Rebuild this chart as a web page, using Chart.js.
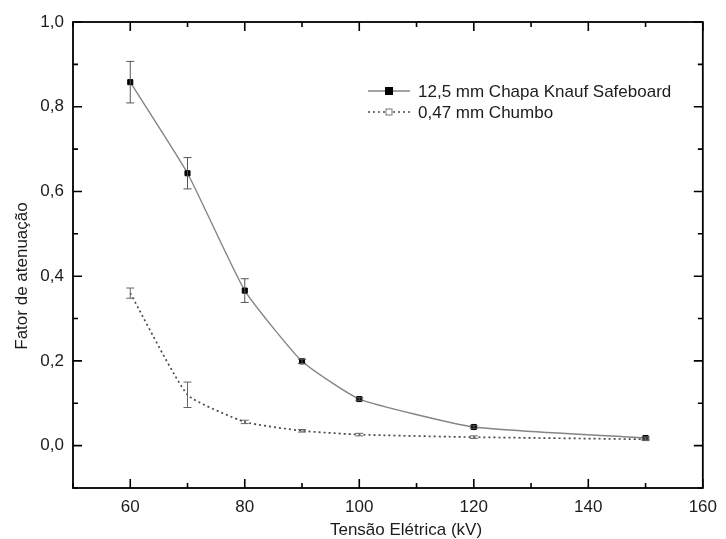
<!DOCTYPE html>
<html>
<head>
<meta charset="utf-8">
<script src="https://cdn.jsdelivr.net/npm/chart.js@4.4.1/dist/chart.umd.min.js"></script>
<style>
  html, body { margin: 0; padding: 0; background: #ffffff; }
  #wrap { width: 726px; height: 539px; position: relative; }
</style>
</head>
<body>
<div id="wrap"><canvas id="c" width="726" height="539"></canvas></div>
<script>
// ---- data ----
const voltages = [60, 70, 80, 90, 100, 120, 150];
const knaufLabel = '12,5 mm Chapa Knauf Safeboard';
const knaufValues = [0.858, 0.643, 0.366, 0.199, 0.110, 0.044, 0.018];
const knaufErrors = [0.049, 0.037, 0.028, 0.005, 0.003, 0.003, 0.003];
const leadLabel = '0,47 mm Chumbo';
const leadValues = [0.360, 0.120, 0.056, 0.035, 0.026, 0.020, 0.015];
const leadErrors = [0.012, 0.030, 0.004, 0.003, 0.003, 0.003, 0.003];
const xTitle = 'Tensão Elétrica (kV)';
const yTitle = 'Fator de atenuação';
const xTickValues = [50, 60, 70, 80, 90, 100, 110, 120, 130, 140, 150, 160];
const xLabelledTicks = [60, 80, 100, 120, 140, 160];
const yTickValues = [-0.1, 0.0, 0.1, 0.2, 0.3, 0.4, 0.5, 0.6, 0.7, 0.8, 0.9, 1.0];
const yLabelledTicks = [0.0, 0.2, 0.4, 0.6, 0.8, 1.0];

const FONT = "'Liberation Sans', Arial, sans-serif";
const TEXT = '#1c1c1c';

function pts(vals) { return voltages.map((v, i) => ({ x: v, y: vals[i] })); }
function isIn(list, v) { return list.some(t => Math.abs(t - v) < 1e-6); }

const errorBars = {
  id: 'errorBars',
  afterDatasetsDraw(chart) {
    const ctx = chart.ctx, xs = chart.scales.x, ys = chart.scales.y;
    ctx.save();
    chart.data.datasets.forEach(ds => {
      const errs = ds.errors;
      ctx.strokeStyle = ds.errColor;
      ctx.lineWidth = 1;
      ds.data.forEach((p, i) => {
        const x = xs.getPixelForValue(p.x);
        const yt = ys.getPixelForValue(p.y + errs[i]);
        const yb = ys.getPixelForValue(p.y - errs[i]);
        ctx.beginPath();
        ctx.moveTo(x, yt); ctx.lineTo(x, yb);
        ctx.moveTo(x - 4, yt); ctx.lineTo(x + 4, yt);
        ctx.moveTo(x - 4, yb); ctx.lineTo(x + 4, yb);
        ctx.stroke();
      });
    });
    ctx.restore();
  }
};

const frame = {
  id: 'frame',
  afterDraw(chart) {
    const ctx = chart.ctx, xs = chart.scales.x, ys = chart.scales.y;
    const a = chart.chartArea;
    ctx.save();
    ctx.strokeStyle = '#000';
    ctx.lineWidth = 1.8;
    ctx.strokeRect(a.left, a.top, a.right - a.left, a.bottom - a.top);
    ctx.lineWidth = 1.6;
    ctx.beginPath();
    xTickValues.forEach(v => {
      const x = xs.getPixelForValue(v);
      const len = isIn(xLabelledTicks, v) ? 9 : 5;
      ctx.moveTo(x, a.bottom); ctx.lineTo(x, a.bottom - len);
      ctx.moveTo(x, a.top); ctx.lineTo(x, a.top + len);
    });
    yTickValues.forEach(v => {
      const y = ys.getPixelForValue(v);
      const len = isIn(yLabelledTicks, v) ? 9 : 5;
      ctx.moveTo(a.left, y); ctx.lineTo(a.left + len, y);
      ctx.moveTo(a.right, y); ctx.lineTo(a.right - len, y);
    });
    ctx.stroke();

    // axis titles
    ctx.fillStyle = TEXT;
    ctx.font = '17px ' + FONT;
    ctx.textAlign = 'center';
    ctx.textBaseline = 'middle';
    ctx.fillText(xTitle, 406, 530);
    ctx.save();
    ctx.translate(22, 276);
    ctx.rotate(-Math.PI / 2);
    ctx.fillText(yTitle, 0, 0);
    ctx.restore();

    // legend
    const lx = 368, ly = 91, gap = 21;
    chart.data.datasets.forEach((ds, i) => {
      const y = ly + i * gap;
      ctx.strokeStyle = ds.borderColor;
      ctx.lineWidth = ds.borderWidth;
      ctx.setLineDash(ds.borderDash || []);
      ctx.beginPath(); ctx.moveTo(lx, y); ctx.lineTo(lx + 42, y); ctx.stroke();
      ctx.setLineDash([]);
      ctx.fillStyle = ds.legendFill;
      ctx.strokeStyle = ds.legendStroke;
      ctx.lineWidth = 1;
      const r = ds.legendR;
      ctx.fillRect(lx + 21 - r, y - r, 2 * r, 2 * r);
      ctx.strokeRect(lx + 21 - r, y - r, 2 * r, 2 * r);
      ctx.fillStyle = TEXT;
      ctx.font = '17px ' + FONT;
      ctx.textBaseline = 'middle';
      ctx.textAlign = 'left';
      ctx.fillText(ds.label, lx + 50, y + 1);
    });
    ctx.restore();
  }
};

new Chart(document.getElementById('c'), {
  type: 'line',
  data: {
    datasets: [
      {
        label: knaufLabel,
        data: pts(knaufValues),
        errors: knaufErrors,
        errColor: '#555',
        borderColor: '#858585',
        borderWidth: 1.4,
        pointStyle: 'rect',
        pointRadius: 3.6,
        pointBackgroundColor: '#000',
        pointBorderColor: '#000',
        pointBorderWidth: 1,
        legendFill: '#000', legendStroke: '#000', legendR: 3.5,
        tension: 0.15,
        fill: false
      },
      {
        label: leadLabel,
        data: pts(leadValues),
        errors: leadErrors,
        errColor: '#666',
        borderColor: '#4a4a4a',
        borderWidth: 1.7,
        borderDash: [2, 3],
        pointStyle: 'crossRot',
        pointRadius: 0,
        pointBackgroundColor: '#fff',
        pointBorderColor: '#666',
        pointBorderWidth: 1,
        legendFill: '#fff', legendStroke: '#777', legendR: 3,
        tension: 0.15,
        fill: false
      }
    ]
  },
  options: {
    responsive: false,
    animation: false,
    layout: { padding: { left: 0, top: 22, right: 16, bottom: 0 } },
    plugins: { legend: { display: false }, tooltip: { enabled: false } },
    scales: {
      x: {
        type: 'linear', min: 50, max: 160,
        afterFit(s) { s.height = 51; },
        afterBuildTicks(s) { s.ticks = xTickValues.map(v => ({ value: v })); },
        grid: { display: false, drawTicks: false },
        border: { display: false },
        ticks: {
          padding: 9, color: TEXT, font: { family: FONT, size: 17 },
          maxRotation: 0, autoSkip: false,
          callback: v => isIn(xLabelledTicks, v) ? String(v) : ''
        },
        title: { display: false }
      },
      y: {
        type: 'linear', min: -0.1, max: 1.0,
        afterFit(s) { s.width = 73; },
        afterBuildTicks(s) { s.ticks = yTickValues.map(v => ({ value: v })); },
        grid: { display: false, drawTicks: false },
        border: { display: false },
        ticks: {
          padding: 9, color: TEXT, font: { family: FONT, size: 17 }, autoSkip: false,
          callback: v => isIn(yLabelledTicks, v) ? v.toFixed(1).replace('.', ',') : ''
        },
        title: { display: false }
      }
    }
  },
  plugins: [errorBars, frame]
});
</script>
</body>
</html>
